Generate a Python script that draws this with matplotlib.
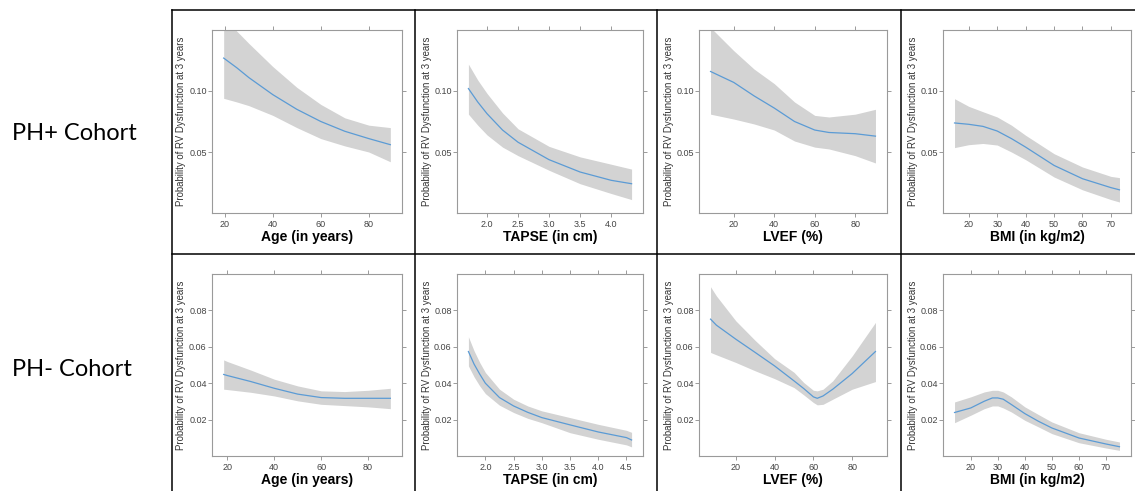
import matplotlib
matplotlib.use("Agg")
import matplotlib.pyplot as plt
from matplotlib.lines import Line2D

# PH+ cohort
age_p_x = [19.5, 25, 30, 40, 50, 60, 70, 80, 89]
age_p_fit = [0.127, 0.119, 0.111, 0.097, 0.085, 0.075, 0.067, 0.061, 0.056]
age_p_lo = [0.094, 0.091, 0.088, 0.080, 0.070, 0.061, 0.055, 0.050, 0.042]
age_p_hi = [0.160, 0.149, 0.139, 0.120, 0.103, 0.089, 0.078, 0.072, 0.070]

tapse_p_x = [1.7, 1.85, 2.0, 2.25, 2.5, 3.0, 3.5, 4.0, 4.33]
tapse_p_fit = [0.102, 0.091, 0.0814, 0.068, 0.058, 0.0437, 0.0336, 0.0268, 0.024]
tapse_p_lo = [0.081, 0.072, 0.064, 0.054, 0.047, 0.035, 0.024, 0.016, 0.011]
tapse_p_hi = [0.122, 0.109, 0.098, 0.082, 0.069, 0.0546, 0.046, 0.040, 0.036]

lvef_p_x = [8.5, 20, 30, 40, 50, 60, 67, 80, 90]
lvef_p_fit = [0.116, 0.107, 0.096, 0.086, 0.075, 0.068, 0.066, 0.065, 0.063]
lvef_p_lo = [0.081, 0.077, 0.073, 0.068, 0.059, 0.054, 0.0525, 0.047, 0.041]
lvef_p_hi = [0.152, 0.133, 0.118, 0.106, 0.091, 0.080, 0.0787, 0.081, 0.085]

bmi_p_x = [15, 20, 25, 30, 35, 40, 50, 60, 70, 73]
bmi_p_fit = [0.0738, 0.0727, 0.071, 0.0672, 0.061, 0.054, 0.039, 0.0281, 0.0208, 0.019]
bmi_p_lo = [0.0536, 0.056, 0.057, 0.0557, 0.050, 0.0437, 0.0295, 0.019, 0.011, 0.009]
bmi_p_hi = [0.0937, 0.0874, 0.083, 0.0787, 0.072, 0.0637, 0.0486, 0.0377, 0.030, 0.029]

# PH- cohort
age_m_x = [18.4, 20, 30, 40, 50, 60, 70, 80, 89.5]
age_m_fit = [0.0448, 0.0442, 0.0409, 0.0372, 0.034, 0.0321, 0.0317, 0.0317, 0.0317]
age_m_lo = [0.0367, 0.0365, 0.035, 0.033, 0.0303, 0.0284, 0.0277, 0.027, 0.026]
age_m_hi = [0.0528, 0.0519, 0.0472, 0.0422, 0.0385, 0.0358, 0.0354, 0.0361, 0.0372]

tapse_m_x = [1.7, 1.8, 1.9, 2.0, 2.25, 2.5, 2.75, 3.0, 3.5, 4.0, 4.5, 4.59]
tapse_m_fit = [0.0574, 0.0505, 0.045, 0.040, 0.0321, 0.0275, 0.024, 0.0211, 0.0171, 0.0132, 0.0101, 0.0088]
tapse_m_lo = [0.0495, 0.0435, 0.0385, 0.0343, 0.0279, 0.0239, 0.0207, 0.0183, 0.0128, 0.0092, 0.0061, 0.005]
tapse_m_hi = [0.0655, 0.0578, 0.0514, 0.0459, 0.0367, 0.0312, 0.0275, 0.0248, 0.0211, 0.0174, 0.0141, 0.013]

lvef_m_x = [7, 10, 20, 30, 40, 50, 55, 60, 62, 65, 70, 80, 92]
lvef_m_fit = [0.0752, 0.0719, 0.0642, 0.0569, 0.0495, 0.0413, 0.0371, 0.0325, 0.0317, 0.033, 0.0367, 0.0453, 0.0574]
lvef_m_lo = [0.0569, 0.0556, 0.0514, 0.0468, 0.0425, 0.0376, 0.0336, 0.0294, 0.0281, 0.0284, 0.0312, 0.0367, 0.0409]
lvef_m_hi = [0.093, 0.088, 0.0743, 0.0635, 0.0535, 0.046, 0.0404, 0.0361, 0.0358, 0.0367, 0.0413, 0.055, 0.0734]

bmi_m_x = [14, 20, 25, 28, 30, 32, 35, 40, 45, 50, 60, 70, 75]
bmi_m_fit = [0.0239, 0.0264, 0.0301, 0.0319, 0.0319, 0.0312, 0.0283, 0.0233, 0.0191, 0.0154, 0.0099, 0.0066, 0.0051]
bmi_m_lo = [0.0183, 0.0224, 0.026, 0.0275, 0.0275, 0.0264, 0.0242, 0.0196, 0.016, 0.0123, 0.0073, 0.0044, 0.0031]
bmi_m_hi = [0.0297, 0.0325, 0.0352, 0.0361, 0.0361, 0.0352, 0.0325, 0.027, 0.0228, 0.0187, 0.0128, 0.0092, 0.0077]

x_labels = ["Age (in years)", "TAPSE (in cm)", "LVEF (%)", "BMI (in kg/m2)"]
row_labels = ["PH+ Cohort", "PH- Cohort"]
y_label = "Probability of RV Dysfunction at 3 years"

x_ticks_plus = [[20, 40, 60, 80], [2.0, 2.5, 3.0, 3.5, 4.0], [20, 40, 60, 80], [20, 30, 40, 50, 60, 70]]
x_ticks_minus = [[20, 40, 60, 80], [2.0, 2.5, 3.0, 3.5, 4.0, 4.5], [20, 40, 60, 80], [20, 30, 40, 50, 60, 70]]
y_ticks_plus = [0.05, 0.10]
y_ticks_minus = [0.02, 0.04, 0.06, 0.08]

panels = [
    [(age_p_x, age_p_fit, age_p_lo, age_p_hi), (tapse_p_x, tapse_p_fit, tapse_p_lo, tapse_p_hi),
     (lvef_p_x, lvef_p_fit, lvef_p_lo, lvef_p_hi), (bmi_p_x, bmi_p_fit, bmi_p_lo, bmi_p_hi)],
    [(age_m_x, age_m_fit, age_m_lo, age_m_hi), (tapse_m_x, tapse_m_fit, tapse_m_lo, tapse_m_hi),
     (lvef_m_x, lvef_m_fit, lvef_m_lo, lvef_m_hi), (bmi_m_x, bmi_m_fit, bmi_m_lo, bmi_m_hi)],
]

W, H = 1135, 491
fig = plt.figure(figsize=(W / 100, H / 100), dpi=100)
plt.rcParams['font.family'] = ['Liberation Sans', 'DejaVu Sans']

col_left = [212, 457, 699, 943]
col_width = [190, 186, 188, 188]
row_top = [30, 274]
row_height = [183, 182]

for r in range(2):
    for c in range(4):
        x, fit, lo, hi = panels[r][c]
        ax = fig.add_axes([col_left[c] / W, 1 - (row_top[r] + row_height[r]) / H,
                           col_width[c] / W, row_height[r] / H])
        ax.fill_between(x, lo, hi, color='#d3d3d3', lw=0)
        ax.plot(x, fit, color='#5b9bd5', lw=0.9)
        ax.margins(x=0.07)
        if r == 0:
            ax.set_ylim(0, 0.15)
            ax.set_yticks(y_ticks_plus)
            ax.set_yticklabels(["0.05", "0.10"])
            ax.set_xticks(x_ticks_plus[c])
        else:
            ax.set_ylim(0, 0.1)
            ax.set_yticks(y_ticks_minus)
            ax.set_yticklabels(["0.02", "0.04", "0.06", "0.08"])
            ax.set_xticks(x_ticks_minus[c])
        for s in ax.spines.values():
            s.set_color('#9a9a9a')
            s.set_linewidth(0.8)
        ax.tick_params(direction='out', length=2.8, width=0.6, color='#8a8a8a',
                       labelcolor='#444444', labelsize=6.5, top=True, right=True)
        ax.tick_params(axis='y', pad=1)
        ax.tick_params(axis='x', pad=2)
        ax.set_ylabel(y_label, fontsize=6.9, color='#333333')
        ax.yaxis.set_label_coords(-0.135, 0.5)
        ax.set_xlabel(x_labels[c], fontsize=10, fontweight='bold', labelpad=1)

# table lines around the panels
for xp in [172, 415, 657, 901]:
    fig.add_artist(Line2D([xp / W, xp / W], [0, 1 - 10 / H], color='black', lw=1.1))
for yp in [10, 254]:
    fig.add_artist(Line2D([172 / W, 1], [1 - yp / H, 1 - yp / H], color='black', lw=1.1))

fig.text(12 / W, 1 - 133 / H, row_labels[0], fontsize=17, family='Lato', va='center')
fig.text(12 / W, 1 - 370 / H, row_labels[1], fontsize=17, family='Lato', va='center')

fig.savefig("out.png", dpi=100)
